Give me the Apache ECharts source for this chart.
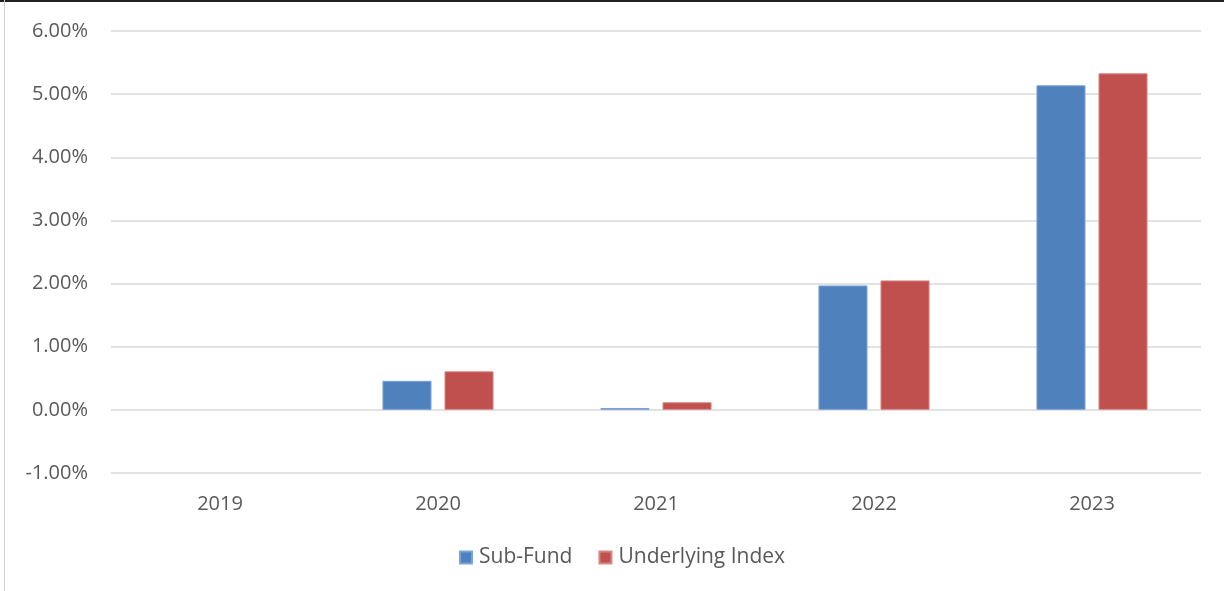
<!DOCTYPE html>
<html><head><meta charset="utf-8">
<script src="https://cdn.jsdelivr.net/npm/echarts@6/dist/echarts.min.js"></script>
<style>
html,body{margin:0;padding:0;background:#fff;}
#c{width:1224px;height:591px;position:relative;}
#bt{position:absolute;left:0;top:0;width:1224px;height:2px;background:#222;z-index:5}
#bl{position:absolute;left:4px;top:0;width:1px;height:591px;background:#d0d0d0;z-index:5}
</style></head>
<body>
<div id="c"></div><div id="bt"></div><div id="bl"></div>
<script>
const categories = ['2019','2020','2021','2022','2023'];
const subFund = [null, 0.46, 0.03, 1.97, 5.14];
const underlyingIndex = [null, 0.61, 0.12, 2.05, 5.33];
const seriesNames = ['Sub-Fund','Underlying Index'];

const chart = echarts.init(document.getElementById('c'));
const font = '"Open Sans", "Noto Sans", sans-serif';
chart.setOption({
  animation:false,
  grid:{left:111,right:23,top:31,bottom:118,containLabel:false},
  legend:{
    bottom:18, left:454, itemWidth:12, itemHeight:12, itemGap:26,
    icon:'rect',
    textStyle:{color:'#595959',fontSize:21,fontFamily:font,padding:[0,0,0,2]},
    data:seriesNames
  },
  xAxis:{
    type:'category', data:categories,
    axisLine:{show:false}, axisTick:{show:false},
    axisLabel:{color:'#595959',fontSize:20,fontFamily:font,margin:21}
  },
  yAxis:{
    type:'value', min:-1, max:6, interval:1,
    axisLine:{show:false}, axisTick:{show:false},
    splitLine:{lineStyle:{color:'#d9d9d9',width:1.5}},
    axisLabel:{color:'#595959',fontSize:20,fontFamily:font,margin:23,
      formatter:v=>v.toFixed(2)+'%'}
  },
  series:[
    {name:seriesNames[0],type:'bar',data:subFund,barWidth:'22.5%',barGap:'26.5%',
     itemStyle:{color:'#4f81bd',borderColor:'#7da2d4',borderWidth:1}},
    {name:seriesNames[1],type:'bar',data:underlyingIndex,barWidth:'22.5%',barGap:'26.5%',
     itemStyle:{color:'#c0504d',borderColor:'#d98583',borderWidth:1}}
  ]
});
</script>
</body></html>
